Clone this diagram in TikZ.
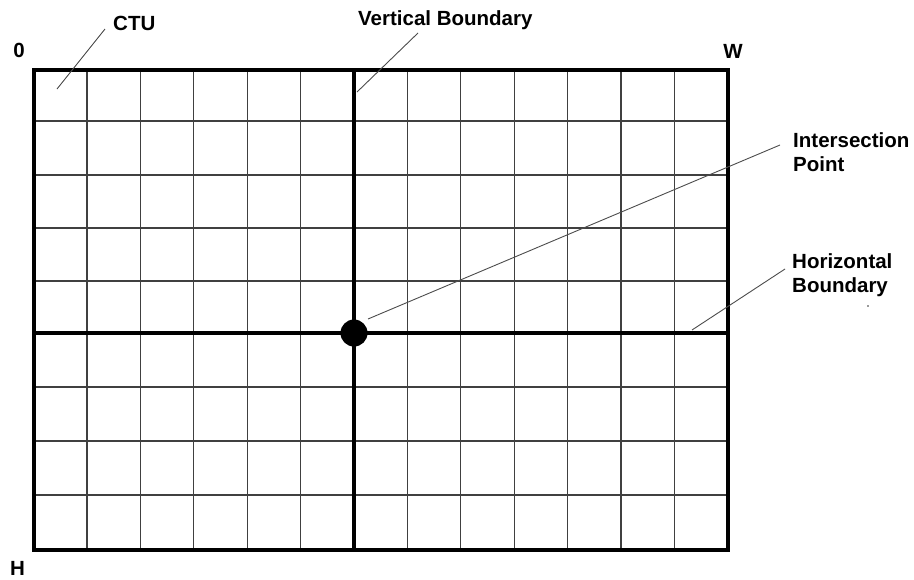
\documentclass[tikz,border=0pt]{standalone}
\usepackage{fontspec}
\setmainfont{Liberation Sans}
\begin{document}
\begin{tikzpicture}[x=1pt,y=-1pt,
  lbl/.style={font=\bfseries\fontsize{20.5}{24.5}\selectfont, inner sep=0pt, align=left},
  gridline/.style={line width=1.3pt, black!75},
  border/.style={line width=4pt, black},
  bound/.style={line width=4.5pt, black},
  leader/.style={line width=0.9pt, black!70}]
\useasboundingbox (0,0) rectangle (914,579);
% grid lines
\foreach \i in {1,...,12} {
  \draw[gridline] ({33.6+53.4*\i},69.5) -- ({33.6+53.4*\i},549.5);
}
\foreach \y in {121,175,228,281,387,441,495} {
  \draw[gridline] (33.6,\y) -- (728,\y);
}
% boundaries
\draw[bound] (354,69.5) -- (354,549.5);
\draw[bound] (33.6,333) -- (728,333);
% border
\draw[border] (33.6,69.5) rectangle (728,549.5);
% intersection point
\node[circle, fill=black, minimum size=27pt, inner sep=0pt] (ip) at (354,333) {};
% labels
\node[lbl, anchor=base] (zero) at (19,57) {0};
\node[lbl, anchor=base] (w) at (733,58) {W};
\node[lbl, anchor=base] (h) at (17.5,575) {H};
\node[lbl, anchor=base west] (ctu) at (113,30) {CTU};
\node[lbl, anchor=base west] (vb) at (358,25) {Vertical Boundary};
\node[lbl, anchor=north west] (ipt) at (793,132) {Intersection\\Point};
\node[lbl, anchor=north west] (hb) at (792,253) {Horizontal\\Boundary};
% leader end points
\coordinate (ctuA) at (105,29);
\coordinate (ctuB) at (57,89);
\coordinate (vbA) at (418,33);
\coordinate (vbB) at (357,92);
\coordinate (ipA) at (780,145);
\coordinate (ipB) at (368,319);
\coordinate (hbA) at (785,269);
\coordinate (hbB) at (692,330);
\draw[leader] (ctuA) -- (ctuB);
\draw[leader] (vbA) -- (vbB);
\draw[leader] (ipA) -- (ipB);
\draw[leader] (hbA) -- (hbB);
% stray speck
\fill[black!80] (868,306) circle (0.8pt);
\end{tikzpicture}
\end{document}
